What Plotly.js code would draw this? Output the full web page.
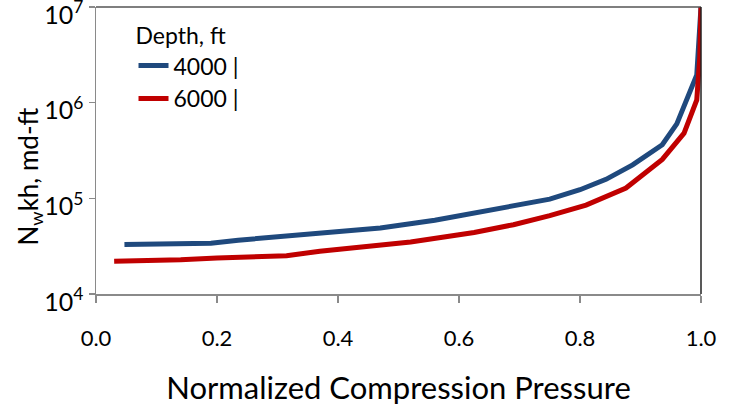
<!DOCTYPE html>
<html>
<head>
<meta charset="utf-8">
<script src="https://cdn.plot.ly/plotly-3.0.1.min.js"></script>
<style>html,body{margin:0;padding:0;background:#fff;}#chart{width:730px;height:411px;}</style>
</head>
<body>
<div id="chart"></div>
<script>
// Depth 4000 ft
const pressure4000 = [0.047, 0.094, 0.14, 0.19, 0.235, 0.314, 0.375, 0.47, 0.56, 0.625, 0.69, 0.75, 0.80, 0.843, 0.887, 0.936, 0.96, 0.977, 0.993, 1.0];
const nwkh4000 = [33000, 33000, 33800, 34000, 36500, 40000, 43000, 49000, 59000, 70000, 83000, 98000, 123000, 158000, 224000, 363000, 600000, 1070000, 1950000, 10000000];
// Depth 6000 ft
const pressure6000 = [0.030, 0.084, 0.14, 0.20, 0.315, 0.37, 0.47, 0.52, 0.625, 0.69, 0.75, 0.81, 0.876, 0.936, 0.972, 0.985, 0.993, 0.998, 1.0];
const nwkh6000 = [22000, 22100, 22800, 23800, 25100, 28000, 32000, 35000, 44000, 53000, 66000, 85000, 128000, 255000, 480000, 830000, 1070000, 3000000, 10000000];

const seriesNames = ["4000 |", "6000 |"];
const xTickVals = [0, 0.2, 0.4, 0.6, 0.8, 1.0];
const xTickText = ["0.0", "0.2", "0.4", "0.6", "0.8", "1.0"];
const yTickVals = [1e4, 1e5, 1e6, 1e7];
const yTickText = ["10<sup>4</sup>", "10<sup>5</sup>", "10<sup>6</sup>", "10<sup>7</sup>"];
const xTitle = "Normalized Compression Pressure";
const yTitle = "N<sub>w</sub>kh, md-ft";

const FONT = "Lato, 'Open Sans', sans-serif";

const traces = [
  {x: pressure4000, y: nwkh4000, name: seriesNames[0], mode: "lines", type: "scatter",
   line: {color: "#1F497D", width: 5}},
  {x: pressure6000, y: nwkh6000, name: seriesNames[1], mode: "lines", type: "scatter",
   line: {color: "#C00000", width: 5}}
];

const layout = {
  width: 730, height: 411,
  margin: {l: 96, r: 29, t: 7, b: 117},
  paper_bgcolor: "#fff", plot_bgcolor: "#fff",
  font: {family: FONT, color: "#000"},
  showlegend: true,
  legend: {
    x: 0.062, y: 0.975, xanchor: "left", yanchor: "top",
    bgcolor: "rgba(0,0,0,0)",
    font: {size: 23, family: FONT, color: "#000"},
    title: {text: "Depth, ft", font: {size: 23, family: FONT, color: "#000"}},
    tracegroupgap: 0
  },
  xaxis: {
    range: [0, 1], tickvals: xTickVals, ticktext: xTickText,
    showgrid: false, zeroline: false,
    showline: true, linecolor: "#8a8a8a", linewidth: 1.5,
    ticks: "outside", ticklen: 7, tickcolor: "#8a8a8a", tickwidth: 1.5,
    ticklabelstandoff: 17,
    tickfont: {size: 22, family: FONT, color: "#000"},
    title: {text: xTitle, font: {size: 31, family: FONT, color: "#000"}, standoff: 27}
  },
  yaxis: {
    type: "log", range: [4, 7], tickvals: yTickVals, ticktext: yTickText,
    showgrid: false, zeroline: false,
    showline: true, linecolor: "#8a8a8a", linewidth: 1.5,
    ticks: "outside", ticklen: 6, tickcolor: "#8a8a8a", tickwidth: 1.5,
    ticklabeloverflow: "allow", ticklabelshift: 8,
    tickfont: {size: 25, family: FONT, color: "#000"}
  },
  annotations: [
    {text: yTitle, xref: "paper", yref: "paper", x: 0, y: 0.5, xanchor: "center", yanchor: "middle",
     xshift: -67, yshift: -26, textangle: -90, showarrow: false,
     font: {size: 26, family: FONT, color: "#000"}}
  ],
  shapes: [
    {type: "line", xref: "paper", yref: "paper", x0: 0, x1: 1, y0: 1, y1: 1, line: {color: "#555", width: 1.5}},
    {type: "line", xref: "paper", yref: "paper", x0: 1, x1: 1, y0: 0, y1: 1, line: {color: "#222", width: 1.5}}
  ]
};

Plotly.newPlot("chart", traces, layout, {displayModeBar: false, staticPlot: true});
</script>
</body>
</html>
